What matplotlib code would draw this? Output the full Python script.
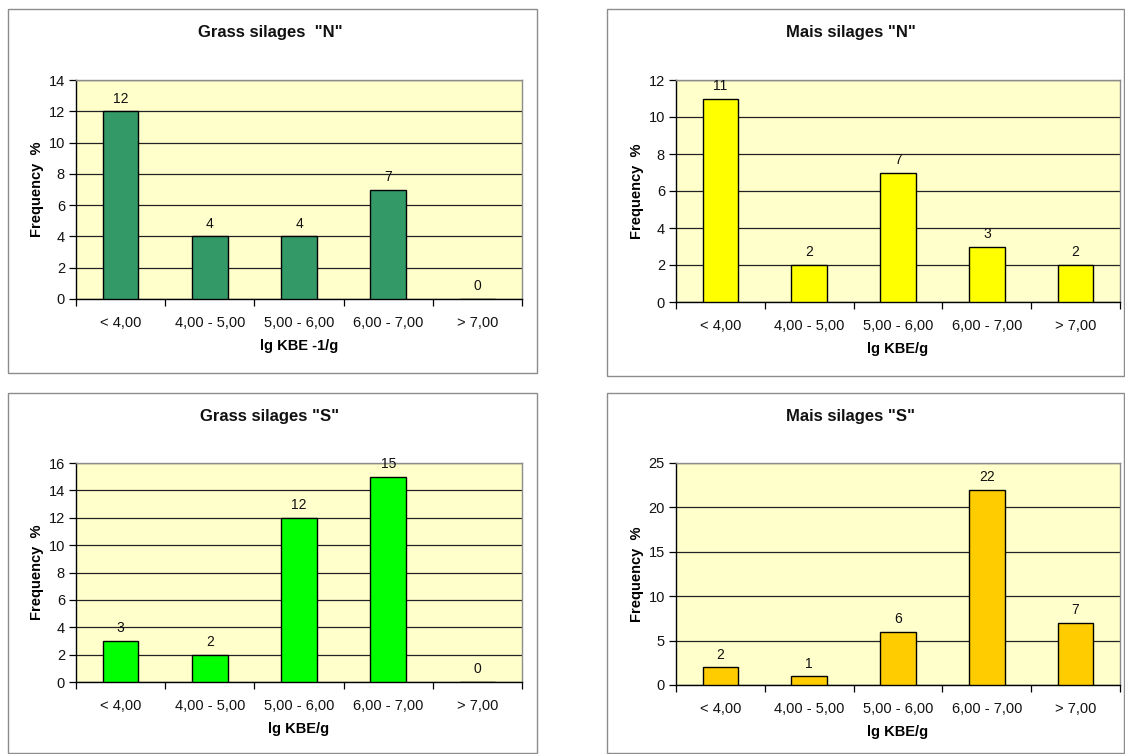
import matplotlib
matplotlib.use("Agg")
import matplotlib.pyplot as plt
from matplotlib.patches import Rectangle
from matplotlib.ticker import FixedLocator, MultipleLocator

plt.rcParams["font.family"] = ["Liberation Sans", "DejaVu Sans"]

categories = ["< 4,00", "4,00 - 5,00", "5,00 - 6,00", "6,00 - 7,00", "> 7,00"]

grass_n = [12, 4, 4, 7, 0]
mais_n = [11, 2, 7, 3, 2]
grass_s = [3, 2, 12, 15, 0]
mais_s = [2, 1, 6, 22, 7]

titles = ['Grass silages  "N"', 'Mais silages "N"', 'Grass silages "S"', 'Mais silages "S"']
xlabels = ["lg KBE -1/g", "lg KBE/g", "lg KBE/g", "lg KBE/g"]
ymax = [14, 12, 16, 25]
ystep = [2, 2, 2, 5]
colors = ["#339966", "#FFFF00", "#00FF00", "#FFCC00"]
series = [grass_n, mais_n, grass_s, mais_s]

W, H = 1125, 754
fig = plt.figure(figsize=(W / 100, H / 100), dpi=100)
fig.patch.set_facecolor("white")

def fx(px):
    return px / W

def fy(py):
    return 1 - py / H

# chart panels: frame box and plot box in pixels, title centre
frames = [(8, 9, 537, 373), (607, 9, 1124, 376), (8, 393, 537, 753), (607, 393, 1124, 753)]
plots = [(76, 80, 522, 299), (676, 80, 1120, 302), (76, 463, 522, 682), (676, 463, 1120, 685)]
title_pos = [(270, 33), (851, 33), (270, 417), (851, 417)]

for i in range(4):
    x0, y0, x1, y1 = frames[i]
    fig.patches.append(Rectangle((fx(x0), fy(y1)), fx(x1 - x0), (y1 - y0) / H,
                                 transform=fig.transFigure, facecolor="none",
                                 edgecolor="#8c8c8c", linewidth=1.0, zorder=-1))

    px0, py0, px1, py1 = plots[i]
    ax = fig.add_axes([fx(px0), fy(py1), fx(px1 - px0), (py1 - py0) / H])
    ax.set_facecolor("#FFFFCC")
    ax.set_axisbelow(True)

    vals = series[i]
    xs = list(range(len(categories)))
    bars = ax.bar(xs, vals, width=0.4, color=colors[i], edgecolor="black",
                  linewidth=1.0, zorder=3)
    for b, v in zip(bars, vals):
        ax.annotate(str(v), (b.get_x() + b.get_width() / 2, v),
                    xytext=(0, 4), textcoords="offset points",
                    ha="center", va="bottom", fontsize=10, color="#111111")

    ax.set_xlim(-0.5, len(categories) - 0.5)
    ax.set_ylim(0, ymax[i])
    ax.yaxis.set_major_locator(MultipleLocator(ystep[i]))
    ax.yaxis.grid(True, color="#222222", linewidth=0.9)

    ax.set_xticks(xs)
    ax.set_xticklabels(categories, fontsize=10.5, color="#111111")
    ax.xaxis.set_minor_locator(FixedLocator([k - 0.5 for k in range(len(categories) + 1)]))
    ax.tick_params(axis="x", which="major", length=0, pad=12)
    ax.tick_params(axis="x", which="minor", length=5, width=0.9, direction="out", color="black")
    ax.tick_params(axis="y", length=5, width=0.9, direction="out", labelsize=10.5,
                   labelcolor="#111111", pad=3)

    for s in ("top", "right"):
        ax.spines[s].set_color("#8c8c8c")
        ax.spines[s].set_linewidth(1.0)
    for s in ("left", "bottom"):
        ax.spines[s].set_color("black")
        ax.spines[s].set_linewidth(1.0)

    ax.set_xlabel(xlabels[i], fontsize=10.5, fontweight="bold", labelpad=7)
    ax.set_ylabel("Frequency  %", fontsize=10.5, fontweight="bold", labelpad=3)

    tx, ty = title_pos[i]
    fig.text(fx(tx), fy(ty), titles[i], ha="center", va="center",
             fontsize=12, fontweight="bold", color="#111111")

fig.savefig("out.png", dpi=100, facecolor="white")
